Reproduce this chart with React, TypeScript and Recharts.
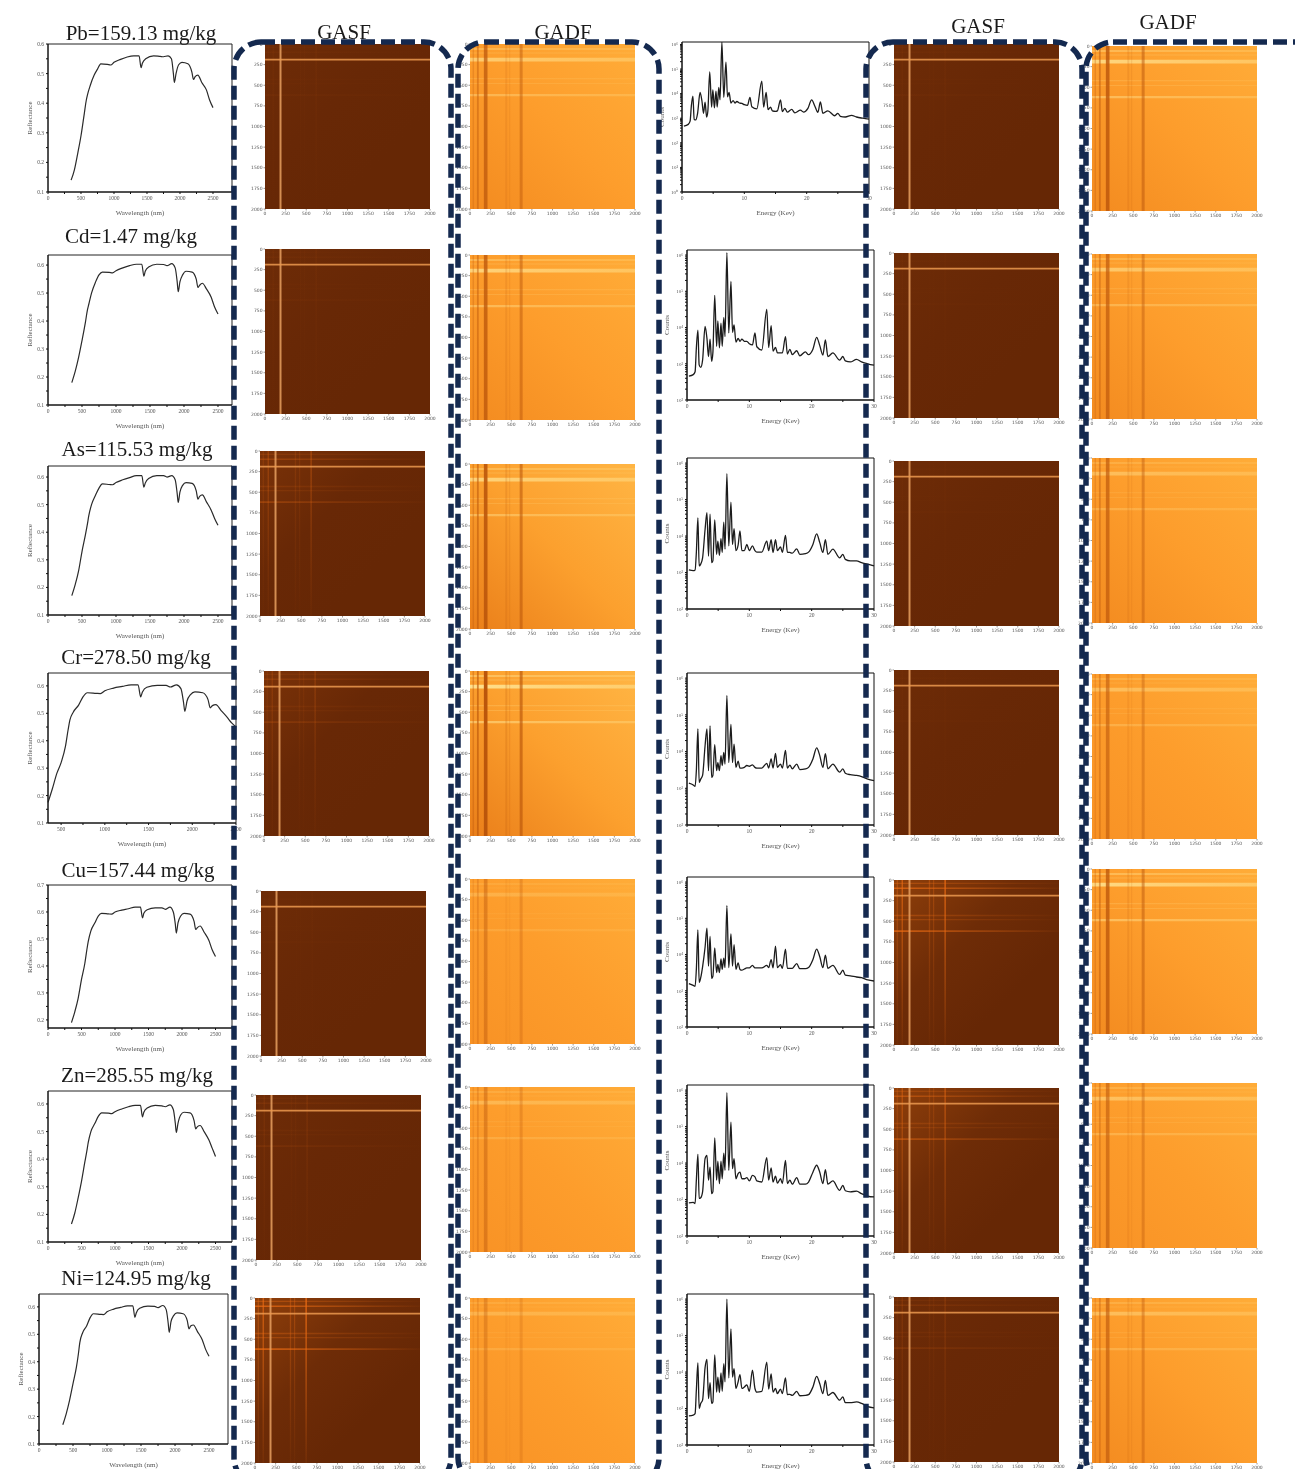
import React from 'react';
import { ComposedChart, LineChart, Line, XAxis, YAxis, ReferenceArea } from 'recharts';

const wavelengths = [350, 400, 450, 500, 550, 580, 600, 640, 700, 750, 800, 900, 950, 1000, 1100, 1200, 1300, 1380, 1410, 1430, 1480, 1600, 1700, 1750, 1820, 1870, 1900, 1915, 1940, 1980, 2030, 2120, 2180, 2205, 2230, 2270, 2330, 2400, 2450, 2500];
const reflPb = [.14, .175, .23, .29, .365, .41, .43, .46, .495, .515, .533, .531, .529, .538, .548, .556, .56, .56, .52, .535, .55, .56, .558, .557, .56, .55, .50, .47, .50, .53, .538, .533, .505, .48, .49, .495, .47, .445, .41, .385];
const reflCd = [.18, .22, .27, .33, .395, .44, .46, .50, .54, .565, .575, .574, .572, .58, .59, .598, .603, .603, .56, .578, .593, .603, .602, .598, .605, .59, .54, .505, .54, .565, .578, .575, .55, .52, .528, .535, .515, .485, .45, .425];
const reflAs = [.17, .21, .26, .33, .39, .43, .46, .50, .535, .56, .575, .573, .572, .58, .59, .598, .605, .605, .563, .578, .595, .605, .605, .6, .605, .59, .54, .508, .545, .57, .58, .577, .55, .52, .53, .535, .51, .48, .45, .425];
const reflCr = [.175, .225, .28, .32, .38, .44, .475, .505, .53, .56, .575, .573, .572, .582, .592, .598, .604, .604, .56, .578, .595, .602, .602, .596, .604, .59, .54, .507, .545, .568, .578, .575, .55, .52, .528, .532, .51, .485, .465, .45];
const reflCu = [.19, .23, .28, .35, .41, .46, .49, .53, .56, .585, .595, .593, .592, .6, .607, .612, .618, .618, .578, .595, .608, .615, .615, .61, .618, .6, .555, .522, .56, .585, .595, .592, .565, .535, .542, .548, .525, .495, .46, .435];
const reflZn = [.165, .205, .26, .32, .39, .43, .46, .50, .53, .555, .568, .567, .565, .572, .582, .59, .595, .595, .553, .57, .585, .595, .593, .59, .597, .58, .53, .497, .53, .56, .57, .568, .54, .51, .518, .522, .5, .47, .44, .41];
const reflNi = [.17, .21, .26, .32, .38, .43, .47, .505, .53, .56, .575, .573, .572, .582, .592, .598, .604, .604, .562, .578, .595, .603, .602, .597, .605, .59, .54, .507, .545, .568, .578, .575, .55, .52, .53, .534, .51, .48, .445, .42];

// log10 of the counts
const energies = [
  0.3, 1.0, 1.3, 1.5, 1.75, 1.95, 2.2, 2.5, 2.9, 3.2,
  3.45, 3.7, 3.95, 4.15, 4.45, 4.75, 4.95, 5.2, 5.45, 5.65,
  5.9, 6.1, 6.4, 6.7, 7.05, 7.3, 7.55, 7.85, 8.2, 8.5,
  8.8, 9.2, 9.6, 10, 10.5, 10.9, 11.2, 12, 12.8, 13.1,
  13.5, 13.8, 14.2, 14.5, 15, 15.3, 15.8, 16.1, 16.5, 16.9,
  17.6, 18.1, 19, 19.5, 20.2, 20.8, 21.3, 21.8, 22.2, 22.6,
  23.4, 24.5, 25, 25.4, 26.2, 27.2, 28, 29, 30,
];
const xrfPb = [
  2.68, 2.75, 2.88, 3.5, 3.9, 2.95, 2.93, 3.2, 4.05, 3.7,
  3.2, 3.65, 3.05, 3.3, 4.88, 3.45, 4.15, 3.42, 4.1, 3.45,
  4.25, 3.75, 6.1, 3.85, 5.28, 3.87, 4.05, 3.62, 3.72, 3.62,
  3.68, 3.62, 3.6, 3.55, 3.52, 3.85, 3.47, 3.38, 4.51, 3.45,
  4.05, 3.35, 3.45, 3.3, 3.28, 3.3, 3.75, 3.27, 3.4, 3.25,
  3.36, 3.22, 3.33, 3.25, 3.4, 3.75, 3.5, 3.24, 3.66, 3.2,
  3.3, 3.1, 3.2, 3.08, 3.05, 3.12, 3.05, 3.0, 2.96,
];
const xrfCd = [
  2.66, 2.7, 2.78, 3.43, 3.93, 2.97, 2.9, 3.1, 4.03, 3.7,
  3.2, 3.68, 3.07, 3.3, 4.89, 3.48, 4.18, 3.44, 4.12, 3.48,
  4.28, 3.75, 6.07, 3.85, 5.27, 3.87, 4.07, 3.6, 3.7, 3.62,
  3.68, 3.62, 3.62, 3.55, 3.52, 3.85, 3.47, 3.38, 4.5, 3.45,
  4.05, 3.35, 3.45, 3.3, 3.3, 3.3, 3.75, 3.27, 3.4, 3.25,
  3.36, 3.22, 3.33, 3.25, 3.4, 3.73, 3.5, 3.24, 3.66, 3.2,
  3.3, 3.1, 3.2, 3.08, 3.05, 3.12, 3.05, 3.0, 2.96,
];
const xrfAs = [
  3.07, 3.05, 3.07, 3.55, 4.5, 3.18, 3.23, 3.4, 4.18, 4.64,
  3.45, 4.6, 3.27, 3.32, 4.44, 3.5, 3.86, 3.47, 3.93, 3.55,
  4.38, 3.64, 5.71, 3.73, 4.93, 3.77, 4.2, 3.6, 3.75, 4.14,
  3.6, 3.6, 3.77, 3.6, 3.73, 3.6, 3.56, 3.56, 3.86, 3.6,
  3.9, 3.55, 3.9, 3.6, 3.7, 3.55, 4.02, 3.56, 3.55, 3.53,
  3.65, 3.5, 3.52, 3.56, 3.77, 4.06, 3.82, 3.55, 3.9, 3.5,
  3.64, 3.4, 3.5, 3.36, 3.32, 3.32, 3.27, 3.23, 3.18,
];
const xrfCr = [
  3.14, 3.09, 3.05, 3.48, 4.62, 3.16, 3.25, 3.35, 4.16, 4.62,
  3.48, 4.7, 3.3, 3.35, 4.19, 3.48, 3.7, 3.48, 3.89, 3.62,
  3.98, 3.66, 5.53, 3.7, 4.74, 3.7, 4.2, 3.57, 3.74, 3.55,
  3.55, 3.57, 3.62, 3.6, 3.64, 3.57, 3.55, 3.55, 3.68, 3.55,
  3.8, 3.55, 3.95, 3.57, 3.66, 3.55, 4.03, 3.55, 3.63, 3.53,
  3.66, 3.51, 3.53, 3.57, 3.8, 4.1, 3.89, 3.57, 3.94, 3.53,
  3.66, 3.44, 3.53, 3.41, 3.37, 3.35, 3.32, 3.25, 3.21,
];
const xrfCu = [
  3.2, 3.15, 3.12, 3.59, 4.68, 3.23, 3.36, 3.66, 4.2, 4.73,
  3.68, 4.5, 3.34, 3.4, 4.18, 3.5, 3.73, 3.5, 3.88, 3.59,
  3.9, 3.64, 5.35, 3.64, 4.57, 3.68, 4.27, 3.59, 3.77, 3.59,
  3.57, 3.6, 3.63, 3.63, 3.7, 3.63, 3.63, 3.63, 3.7, 3.64,
  3.86, 3.63, 4.23, 3.64, 3.72, 3.62, 4.15, 3.62, 3.62, 3.62,
  3.75, 3.61, 3.61, 3.64, 3.86, 4.15, 3.94, 3.64, 3.98, 3.62,
  3.7, 3.45, 3.57, 3.43, 3.41, 3.38, 3.36, 3.3, 3.27,
];
const xrfZn = [
  2.91, 2.92, 2.89, 3.53, 4.24, 3.03, 3.05, 3.21, 4.12, 4.21,
  3.53, 3.89, 3.16, 3.21, 4.69, 3.53, 4.05, 3.44, 4.05, 3.57,
  4.27, 3.8, 5.93, 3.8, 5.12, 3.85, 4.12, 3.57, 3.71, 3.75,
  3.57, 3.57, 3.6, 3.51, 3.66, 3.62, 3.51, 3.48, 4.15, 3.53,
  3.87, 3.48, 3.64, 3.45, 3.57, 3.44, 4.07, 3.44, 3.53, 3.42,
  3.6, 3.42, 3.42, 3.48, 3.75, 3.94, 3.75, 3.44, 3.82, 3.42,
  3.51, 3.25, 3.39, 3.24, 3.21, 3.23, 3.16, 3.09, 3.07,
];
const xrfNi = [
  2.8, 2.82, 2.86, 3.5, 4.25, 3.0, 3.14, 3.23, 4.12, 4.35,
  3.27, 3.71, 3.14, 3.18, 4.47, 3.45, 3.86, 3.44, 3.98, 3.47,
  4.23, 3.73, 6.0, 3.84, 5.18, 3.86, 4.09, 3.55, 3.73, 3.93,
  3.55, 3.59, 3.65, 3.47, 4.05, 3.55, 3.45, 3.47, 4.27, 3.53,
  3.95, 3.45, 3.55, 3.41, 3.53, 3.41, 3.84, 3.38, 3.39, 3.36,
  3.47, 3.35, 3.36, 3.38, 3.59, 3.88, 3.68, 3.41, 3.77, 3.36,
  3.44, 3.23, 3.32, 3.16, 3.16, 3.18, 3.14, 3.05, 3.02,
];

const elementTitles = ['Pb=159.13 mg/kg', 'Cd=1.47 mg/kg', 'As=115.53 mg/kg', 'Cr=278.50 mg/kg', 'Cu=157.44 mg/kg', 'Zn=285.55 mg/kg', 'Ni=124.95 mg/kg'];

// heatmap stripes: [index, half width, weight]
const gasfFaintBands = [[40, 7, .5], [100, 8, .9], [430, 8, .45], [480, 7, .4], [620, 10, .9]];
const gadfDarkBands = [[40, 9, .35], [95, 11, .6], [190, 22, .95], [440, 12, .2], [480, 8, .15], [620, 18, .6]];
const gadfLightBands = [[60, 12, .5], [110, 6, .3], [190, 22, 1], [420, 8, .25], [480, 6, .25], [620, 13, .6]];
const gasfCol2Levels = [.06, .06, .4, .25, .03, .14, .95];
const gasfCol5Levels = [.05, .03, .03, .03, .9, .6, .2];
const gadfCol3Dark = [.75, .8, .95, 1.1, .45, .45, .35];
const gadfCol3Light = [.7, .8, .8, 1, .3, .4, .35];
const gadfCol6Dark = [.85, .7, .7, .6, .8, .6, .65];
const gadfCol6Light = [.85, .65, .5, .5, .9, .55, .5];
const heatTicks = [0, 250, 500, 750, 1000, 1250, 1500, 1750, 2000];
const heatRows = heatTicks.map((v) => ({ x: v, y: v }));

// page layout
const serif = '"Liberation Serif", "Times New Roman", serif';
const titlePos = [[141, 33], [131, 236], [137, 449], [136, 657], [138, 870], [137, 1075], [136, 1278]];
const reflRows = [
  { vals: reflPb, x: 48, y: 44, w: 184, h: 148, xDom: [0, 2788], yDom: [.1, .6] },
  { vals: reflCd, x: 48, y: 255, w: 184, h: 150, xDom: [0, 2706], yDom: [.1, .636] },
  { vals: reflAs, x: 48, y: 466, w: 184, h: 149, xDom: [0, 2706], yDom: [.1, .64] },
  { vals: reflCr, x: 48, y: 673, w: 188, h: 150, xDom: [350, 2500], yDom: [.1, .647] },
  { vals: reflCu, x: 48, y: 885, w: 184, h: 143, xDom: [0, 2746], yDom: [.17, .7] },
  { vals: reflZn, x: 48, y: 1091, w: 184, h: 151, xDom: [0, 2746], yDom: [.1, .647] },
  { vals: reflNi, x: 39, y: 1294, w: 189, h: 150, xDom: [0, 2779], yDom: [.1, .647] },
];
const xrfRows = [
  { vals: xrfPb, x: 682, y: 42, h: 150, yDom: [0, 6.1] },
  { vals: xrfCd, x: 687, y: 250, h: 150, yDom: [2, 6.14] },
  { vals: xrfAs, x: 687, y: 458, h: 151, yDom: [2, 6.14] },
  { vals: xrfCr, x: 687, y: 673, h: 152, yDom: [2, 6.14] },
  { vals: xrfCu, x: 687, y: 877, h: 150, yDom: [2, 6.14] },
  { vals: xrfZn, x: 687, y: 1085, h: 151, yDom: [2, 6.14] },
  { vals: xrfNi, x: 687, y: 1294, h: 151, yDom: [2, 6.14] },
];
const col2Pos = [[265, 44], [265, 249], [260, 451], [264, 671], [261, 891], [256, 1095], [255, 1298]];
const col3Pos = [[470, 44], [470, 255], [470, 464], [470, 671], [470, 879], [470, 1087], [470, 1298]];
const col5Pos = [[894, 44], [894, 253], [894, 461], [894, 670], [894, 880], [894, 1088], [894, 1297]];
const col6Pos = [[1092, 46], [1092, 254], [1092, 458], [1092, 674], [1092, 869], [1092, 1083], [1092, 1298]];

const tickStyle = { fontSize: 5.5, fontFamily: serif, fill: '#555' };
const labelStyle = { fontSize: 7, fontFamily: serif, fill: '#555', textAnchor: 'middle' as const };
const supers: Record<number, string> = { 0: '⁰', 1: '¹', 2: '²', 3: '³', 4: '⁴', 5: '⁵', 6: '⁶' };
const minorLogs = [0, .3, .48, .6, .7, .78, .85, .9, .95];

const place = (left: number, top: number): React.CSSProperties => ({ position: 'absolute', left, top });

const ReflectanceChart = ({ row }: { row: typeof reflRows[number] }) => {
  const data = wavelengths.map((w, i) => ({ w, r: row.vals[i] }));
  const xTicks = [0, 250, 500, 750, 1000, 1250, 1500, 1750, 2000, 2250, 2500].filter((t) => t >= row.xDom[0]);
  const yTicks = [.15, .2, .25, .3, .35, .4, .45, .5, .55, .6, .65, .7, .1].filter((t) => t >= row.yDom[0] && t <= row.yDom[1]);
  return (
    <div style={{ ...place(row.x - 30, row.y - 4), filter: 'blur(0.35px)' }}>
      <LineChart width={row.w + 42} height={row.h + 36} data={data} margin={{ top: 4, right: 12, bottom: 0, left: 0 }}>
        <XAxis
          dataKey="w" type="number" domain={row.xDom} ticks={xTicks} interval={0} height={32}
          tick={tickStyle} tickSize={2} tickMargin={2} stroke="#111"
          tickFormatter={(v: number) => (v % 500 === 0 ? String(v) : '')}
          label={{ value: 'Wavelength (nm)', position: 'insideBottom', offset: 9, style: labelStyle }}
        />
        <YAxis
          type="number" domain={row.yDom} ticks={yTicks} interval={0} width={30}
          tick={tickStyle} tickSize={2} tickMargin={2} stroke="#111"
          tickFormatter={(v: number) => (Math.round(v * 100) % 10 === 0 ? v.toFixed(1) : '')}
          label={{ value: 'Reflectance', angle: -90, position: 'insideLeft', offset: 12, style: labelStyle }}
        />
        <ReferenceArea x1={row.xDom[0]} x2={row.xDom[1]} y1={row.yDom[0]} y2={row.yDom[1]} fill="none" stroke="#222" strokeWidth={1} />
        <Line dataKey="r" type="monotone" stroke="#2a2a2a" strokeWidth={1.2} dot={false} isAnimationActive={false} />
      </LineChart>
    </div>
  );
};

const XrfChart = ({ row }: { row: typeof xrfRows[number] }) => {
  const data = energies.map((e, i) => ({ e, c: row.vals[i] }));
  const yTicks: number[] = [];
  for (let d = row.yDom[0]; d < 6; d++) minorLogs.forEach((m) => yTicks.push(d + m));
  yTicks.push(6);
  return (
    <div style={{ ...place(row.x - 30, row.y - 4), filter: 'blur(0.35px)' }}>
      <LineChart width={187 + 42} height={row.h + 36} data={data} margin={{ top: 4, right: 12, bottom: 0, left: 0 }}>
        <XAxis
          dataKey="e" type="number" domain={[0, 30]} ticks={[0, 5, 10, 15, 20, 25, 30]} interval={0} height={32}
          tick={tickStyle} tickSize={2} tickMargin={2} stroke="#111"
          tickFormatter={(v: number) => (v % 10 === 0 ? String(v) : '')}
          label={{ value: 'Energy (Kev)', position: 'insideBottom', offset: 9, style: labelStyle }}
        />
        <YAxis
          type="number" domain={row.yDom} ticks={yTicks} interval={0} width={30} allowDataOverflow
          tick={{ ...tickStyle, fontSize: 5 }} tickSize={2} tickMargin={2} stroke="#111"
          tickFormatter={(v: number) => (Number.isInteger(v) ? `10${supers[v]}` : '')}
          label={{ value: 'Counts', angle: -90, position: 'insideLeft', offset: 10, style: labelStyle }}
        />
        <ReferenceArea x1={0} x2={30} y1={row.yDom[0]} y2={row.yDom[1]} fill="none" stroke="#111" strokeWidth={1} />
        <Line dataKey="c" type="monotone" stroke="#1c1c1c" strokeWidth={1.3} dot={false} isAnimationActive={false} />
      </LineChart>
    </div>
  );
};

const HeatFrame = ({ pos, children }: { pos: number[]; children: React.ReactNode }) => (
  <div style={{ ...place(pos[0] - 18, pos[1] - 4), filter: 'blur(0.6px)' }}>
    <ComposedChart width={18 + 165 + 8} height={4 + 165 + 14} data={heatRows} margin={{ top: 4, right: 8, bottom: 0, left: 0 }}>
      <XAxis
        type="number" dataKey="x" domain={[0, 2000]} ticks={heatTicks} interval={0} height={14}
        tick={{ ...tickStyle, fontSize: 4.5, fontFamily: 'DejaVu Sans' }} tickSize={1.5} tickMargin={1} stroke="#999" axisLine={false}
      />
      <YAxis
        type="number" domain={[0, 2000]} ticks={heatTicks} interval={0} width={18} reversed
        tick={{ ...tickStyle, fontSize: 4.5, fontFamily: 'DejaVu Sans' }} tickSize={1.5} tickMargin={1} stroke="#999" axisLine={false}
      />
      {children}
      <Line dataKey="y" stroke="none" dot={false} isAnimationActive={false} />
    </ComposedChart>
  </div>
);

const GasfMap = ({ id, pos, level }: { id: string; pos: number[]; level: number }) => (
  <HeatFrame pos={pos}>
    <defs>
      <linearGradient id={`${id}-base`} x1="0" y1="0" x2="0.7" y2="0.7">
        <stop offset="0" stopColor={level > .5 ? '#8f3f0a' : level > .2 ? '#7a3208' : '#6e2c07'} />
        <stop offset="0.55" stopColor={level > .5 ? '#6e2c07' : '#682806'} />
        <stop offset="1" stopColor="#662705" />
      </linearGradient>
      <linearGradient id={`${id}-h`} x1="0" y1="0" x2="1" y2="0">
        <stop offset="0" stopColor="#ea6a12" stopOpacity="1" />
        <stop offset="1" stopColor="#ea6a12" stopOpacity="0.05" />
      </linearGradient>
      <linearGradient id={`${id}-v`} x1="0" y1="0" x2="0" y2="1">
        <stop offset="0" stopColor="#ea6a12" stopOpacity="1" />
        <stop offset="1" stopColor="#ea6a12" stopOpacity="0.1" />
      </linearGradient>
    </defs>
    <ReferenceArea x1={0} x2={2000} y1={0} y2={2000} fill={`url(#${id}-base)`} fillOpacity={1} stroke="none" />
    {gasfFaintBands.map(([c, hw, wt]) => (
      <ReferenceArea key={`v${c}`} x1={c - hw} x2={c + hw} y1={0} y2={2000} fill={`url(#${id}-v)`} fillOpacity={level * wt * .9} stroke="none" />
    ))}
    {gasfFaintBands.map(([c, hw, wt]) => (
      <ReferenceArea key={`h${c}`} x1={0} x2={2000} y1={c - hw} y2={c + hw} fill={`url(#${id}-h)`} fillOpacity={level * wt * .9} stroke="none" />
    ))}
    <ReferenceArea x1={176} x2={200} y1={0} y2={2000} fill="#e8a060" fillOpacity={.85} stroke="none" />
    <ReferenceArea x1={0} x2={2000} y1={180} y2={200} fill="#ec9a50" fillOpacity={.85} stroke="none" />
  </HeatFrame>
);

const GadfMap = ({ id, pos, dark, light }: { id: string; pos: number[]; dark: number; light: number }) => (
  <HeatFrame pos={pos}>
    <defs>
      <linearGradient id={`${id}-base`} x1="1" y1="0" x2="0" y2="1">
        <stop offset="0" stopColor={dark > .9 ? '#ffb544' : '#ffac38'} />
        <stop offset="0.5" stopColor={dark > .9 ? '#fca02e' : '#fd9d2c'} />
        <stop offset="1" stopColor={dark > .9 ? '#ea7f1a' : dark > .6 ? '#f38b20' : '#f89225'} />
      </linearGradient>
      <linearGradient id={`${id}-l`} x1="0" y1="0" x2="1" y2="0">
        <stop offset="0" stopColor="#ffe08c" stopOpacity="1" />
        <stop offset="1" stopColor="#ffe08c" stopOpacity="0.6" />
      </linearGradient>
    </defs>
    <ReferenceArea x1={0} x2={2000} y1={0} y2={2000} fill={`url(#${id}-base)`} fillOpacity={1} stroke="none" />
    {gadfLightBands.map(([c, hw, wt]) => (
      <ReferenceArea key={`h${c}`} x1={0} x2={2000} y1={c - hw} y2={c + hw} fill={`url(#${id}-l)`} fillOpacity={Math.min(1, light * wt)} stroke="none" />
    ))}
    {gadfDarkBands.map(([c, hw, wt]) => (
      <ReferenceArea key={`v${c}`} x1={c - hw} x2={c + hw} y1={0} y2={2000} fill="#bb560b" fillOpacity={Math.min(1, dark * wt)} stroke="none" />
    ))}
  </HeatFrame>
);

const Caption = ({ text, x, y }: { text: string; x: number; y: number }) => (
  <div style={{ ...place(x, y), transform: 'translate(-50%, -50%)', fontFamily: serif, fontSize: 21, lineHeight: 1, color: '#1a1a1a', whiteSpace: 'nowrap', filter: 'blur(0.3px)' }}>
    {text}
  </div>
);

export default function App() {
  return (
    <div style={{ ...place(0, 0), width: 1295, height: 1469, overflow: 'hidden', background: '#fff' }}>
      {reflRows.map((row, i) => <ReflectanceChart key={i} row={row} />)}
      {xrfRows.map((row, i) => <XrfChart key={i} row={row} />)}
      {col2Pos.map((pos, i) => <GasfMap key={i} id={`a${i}`} pos={pos} level={gasfCol2Levels[i]} />)}
      {col3Pos.map((pos, i) => <GadfMap key={i} id={`b${i}`} pos={pos} dark={gadfCol3Dark[i]} light={gadfCol3Light[i]} />)}
      {col5Pos.map((pos, i) => <GasfMap key={i} id={`c${i}`} pos={pos} level={gasfCol5Levels[i]} />)}
      {col6Pos.map((pos, i) => <GadfMap key={i} id={`d${i}`} pos={pos} dark={gadfCol6Dark[i]} light={gadfCol6Light[i]} />)}
      {elementTitles.map((t, i) => <Caption key={t} text={t} x={titlePos[i][0]} y={titlePos[i][1]} />)}
      <svg width={1295} height={1469} style={{ ...place(0, 0), pointerEvents: 'none' }}>
        <g fill="none" stroke="#14294f" strokeWidth={5.5} strokeDasharray="14 6">
          <rect x={234} y={42} width={217} height={1443} rx={27} />
          <rect x={458} y={42} width={201} height={1443} rx={27} />
          <rect x={866} y={42} width={216} height={1443} rx={27} />
          <rect x={1086} y={42} width={240} height={1443} rx={27} />
        </g>
      </svg>
      <Caption text="GASF" x={344} y={32} />
      <Caption text="GADF" x={563} y={32} />
      <Caption text="GASF" x={978} y={26} />
      <Caption text="GADF" x={1168} y={22} />
    </div>
  );
}
